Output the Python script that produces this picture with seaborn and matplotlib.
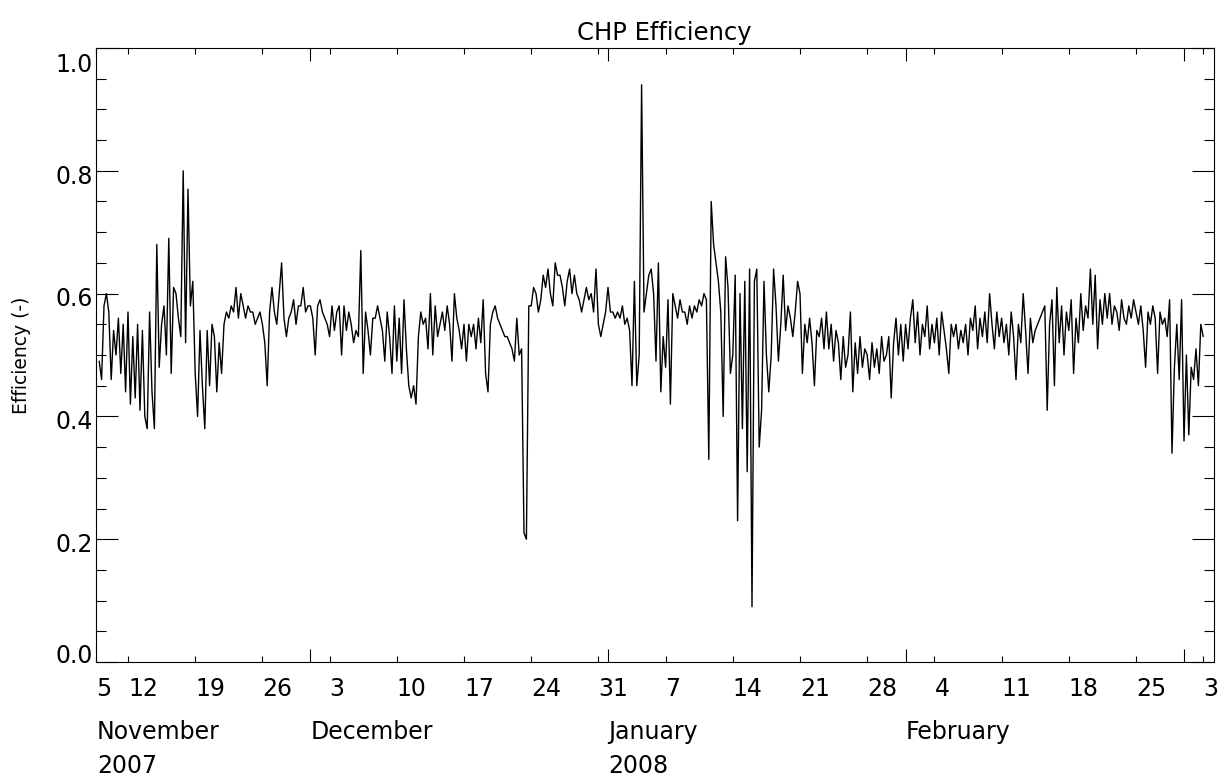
import numpy as np
import pandas as pd
import matplotlib
matplotlib.use("Agg")
import matplotlib.pyplot as plt
import matplotlib.dates as mdates
from matplotlib.transforms import ScaledTranslation, blended_transform_factory
import seaborn as sns

# ---- data: CHP efficiency, 4 samples per day (every 6 h) starting 2007-11-09 00:00
nov_2007 = [
    0.49, 0.46, 0.58, 0.60,  0.57, 0.46, 0.54, 0.50,  0.56, 0.47, 0.55, 0.44,
    0.57, 0.42, 0.53, 0.43,  0.55, 0.41, 0.54, 0.40,  0.38, 0.57, 0.44, 0.38,
    0.68, 0.48, 0.55, 0.58,  0.50, 0.69, 0.47, 0.61,  0.60, 0.56, 0.53, 0.80,
    0.52, 0.77, 0.58, 0.62,  0.47, 0.40, 0.54, 0.45,  0.38, 0.54, 0.45, 0.55,
    0.53, 0.44, 0.52, 0.47,  0.55, 0.57, 0.56, 0.58,  0.57, 0.61, 0.56, 0.60,
    0.58, 0.56, 0.58, 0.57,  0.57, 0.55, 0.56, 0.57,  0.55, 0.52, 0.45, 0.57,
    0.61, 0.57, 0.55, 0.60,  0.65, 0.56, 0.53, 0.56,  0.57, 0.59, 0.55, 0.58,
    0.58, 0.61, 0.57, 0.58,
]
dec_2007 = [
    0.58, 0.56, 0.50, 0.58,  0.59, 0.57, 0.56, 0.55,  0.53, 0.58, 0.54, 0.57,
    0.58, 0.50, 0.58, 0.54,  0.57, 0.55, 0.52, 0.54,  0.53, 0.67, 0.47, 0.57,
    0.54, 0.50, 0.56, 0.56,  0.58, 0.56, 0.54, 0.49,  0.57, 0.53, 0.47, 0.58,
    0.49, 0.56, 0.47, 0.59,  0.51, 0.45, 0.43, 0.45,  0.42, 0.53, 0.57, 0.55,
    0.56, 0.51, 0.60, 0.50,  0.58, 0.53, 0.55, 0.57,  0.54, 0.58, 0.55, 0.49,
    0.60, 0.56, 0.54, 0.51,  0.55, 0.49, 0.55, 0.53,  0.55, 0.51, 0.56, 0.52,
    0.59, 0.47, 0.44, 0.55,  0.57, 0.58, 0.56, 0.55,  0.54, 0.53, 0.53, 0.52,
    0.51, 0.49, 0.56, 0.50,  0.51, 0.21, 0.20, 0.58,  0.58, 0.61, 0.60, 0.57,
    0.59, 0.63, 0.61, 0.64,  0.60, 0.58, 0.65, 0.63,  0.63, 0.61, 0.58, 0.62,
    0.64, 0.60, 0.63, 0.60,  0.59, 0.57, 0.59, 0.61,  0.59, 0.60, 0.57, 0.64,
    0.55, 0.53, 0.55, 0.57,
]
jan_2008 = [
    0.61, 0.57, 0.57, 0.56,  0.57, 0.56, 0.58, 0.55,  0.56, 0.54, 0.45, 0.62,
    0.45, 0.50, 0.94, 0.57,  0.60, 0.63, 0.64, 0.60,  0.49, 0.65, 0.44, 0.53,
    0.48, 0.59, 0.42, 0.60,  0.58, 0.56, 0.59, 0.57,  0.57, 0.55, 0.58, 0.56,
    0.58, 0.57, 0.59, 0.58,  0.60, 0.59, 0.33, 0.75,  0.68, 0.65, 0.62, 0.57,
    0.40, 0.66, 0.61, 0.47,  0.50, 0.63, 0.23, 0.60,  0.38, 0.62, 0.31, 0.64,
    0.09, 0.62, 0.64, 0.35,  0.41, 0.62, 0.50, 0.44,  0.50, 0.64, 0.58, 0.49,
    0.55, 0.63, 0.54, 0.58,  0.56, 0.53, 0.57, 0.62,  0.60, 0.47, 0.55, 0.52,
    0.56, 0.52, 0.45, 0.54,  0.53, 0.56, 0.51, 0.57,  0.51, 0.55, 0.49, 0.54,
    0.52, 0.46, 0.53, 0.48,  0.50, 0.57, 0.44, 0.52,  0.47, 0.53, 0.48, 0.51,
    0.50, 0.46, 0.52, 0.48,  0.51, 0.47, 0.53, 0.49,  0.50, 0.53, 0.43, 0.52,
    0.56, 0.50, 0.55, 0.49,
]
feb_2008 = [
    0.55, 0.51, 0.56, 0.59,  0.52, 0.57, 0.50, 0.55,  0.53, 0.58, 0.51, 0.55,
    0.52, 0.56, 0.50, 0.57,  0.54, 0.51, 0.47, 0.55,  0.53, 0.55, 0.51, 0.54,
    0.52, 0.55, 0.50, 0.56,  0.54, 0.58, 0.51, 0.56,  0.53, 0.57, 0.52, 0.60,
    0.55, 0.51, 0.57, 0.53,  0.56, 0.52, 0.55, 0.50,  0.57, 0.53, 0.46, 0.55,
    0.52, 0.60, 0.54, 0.47,  0.56, 0.52, 0.54, None,  None, None, 0.58, 0.41,
    0.55, 0.59, 0.45, 0.61,  0.52, 0.58, 0.50, 0.57,  0.54, 0.59, 0.47, 0.56,
    0.52, 0.60, 0.54, 0.58,  0.56, 0.64, 0.55, 0.63,  0.51, 0.59, 0.55, 0.60,
    0.56, 0.60, 0.55, 0.58,  0.57, 0.54, 0.59, 0.56,  0.55, 0.58, 0.56, 0.59,
    0.57, 0.55, 0.58, 0.54,  0.48, 0.57, 0.55, 0.58,  0.56, 0.47, 0.57, 0.55,
    0.56, 0.53, 0.59, 0.34,  0.48, 0.55, 0.46, 0.59,
]
mar_2008 = [
    0.36, 0.50, 0.37, 0.48,  0.46, 0.51, 0.45, 0.55,  0.53,
]

week_ticks = ["2007-11-12", "2007-11-19", "2007-11-26", "2007-12-03", "2007-12-10",
              "2007-12-17", "2007-12-24", "2007-12-31", "2008-01-07", "2008-01-14",
              "2008-01-21", "2008-01-28", "2008-02-04", "2008-02-11", "2008-02-18",
              "2008-02-25", "2008-03-03"]
week_labels = ["12", "19", "26", "3", "10", "17", "24", "31", "7", "14", "21", "28",
               "4", "11", "18", "25", "3"]
month_starts = ["2007-12-01", "2008-01-01", "2008-02-01", "2008-03-01"]
month_labels = ["November", "December", "January", "February"]
year_labels = ["2007", "2008"]
y_ticks = [0.0, 0.2, 0.4, 0.6, 0.8, 1.0]
y_labels = ["0.0", "0.2", "0.4", "0.6", "0.8", "1.0"]

# ---- style
sns.set_style("ticks")
plt.rcParams["font.family"] = ["DejaVu Sans"]
plt.rcParams["text.color"] = "black"
plt.rcParams["axes.labelcolor"] = "black"
plt.rcParams["xtick.color"] = "black"
plt.rcParams["ytick.color"] = "black"

values = nov_2007 + dec_2007 + jan_2008 + feb_2008 + mar_2008
t0 = pd.Timestamp("2007-11-09")
times = t0 + pd.to_timedelta(np.arange(len(values)) * 6, unit="h")
df = pd.DataFrame({"time": times,
                   "eff": pd.to_numeric(pd.Series(values, dtype="object"), errors="coerce")})
df = df.dropna()

W, H = 1224, 779
fig = plt.figure(figsize=(W / 100, H / 100), dpi=100)
L, R, T, B = 96, 1214, 48, 662
ax = fig.add_axes([L / W, 1 - B / H, (R - L) / W, (B - T) / H])

sns.lineplot(data=df, x="time", y="eff", ax=ax, color="black", linewidth=1.0,
             estimator=None, sort=False)

x_left = t0 - pd.Timedelta(days=0.333)
x_right = t0 + pd.Timedelta(days=116.125)
ax.set_xlim(mdates.date2num(x_left), mdates.date2num(x_right))
ax.set_ylim(0.0, 1.0)

# x ticks: weekly (short, labelled, left-aligned) + month starts (long)
xt = [mdates.date2num(x_left)] + [mdates.date2num(pd.Timestamp(d)) for d in week_ticks]
ax.set_xticks(xt)
ax.set_xticklabels(["5"] + week_labels, ha="left", fontsize=17, color="black")
ax.set_xticks([mdates.date2num(pd.Timestamp(d)) for d in month_starts], minor=True)
ax.tick_params(axis="x", which="major", direction="in", length=4.3, width=0.8,
               top=True, bottom=True, pad=10.8, colors="black")
ax.tick_params(axis="x", which="minor", direction="in", length=9.4, width=0.8,
               top=True, bottom=True, colors="black")

# y ticks
ax.set_yticks(y_ticks)
ax.set_yticklabels(y_labels, fontsize=17, color="black")
ax.set_yticks(np.arange(0.05, 1.0, 0.05), minor=True)
ax.tick_params(axis="y", which="major", direction="in", length=15.8, width=0.8,
               left=True, right=True, pad=2.5, colors="black")
ax.tick_params(axis="y", which="minor", direction="in", length=7.2, width=0.8,
               left=True, right=True, colors="black")
y_offsets_px = [8.5, -3, -3, -3, -3.5, -15]
for lab, dy in zip(ax.get_yticklabels(), y_offsets_px):
    lab.set_transform(lab.get_transform() + ScaledTranslation(0, dy / 100, fig.dpi_scale_trans))

for s in ax.spines.values():
    s.set_visible(True)
    s.set_linewidth(0.8)
    s.set_color("black")

ax.set_xlabel("")
ax.set_ylabel("")

# month and year rows under the day numbers
tr = blended_transform_factory(ax.transData, fig.transFigure)
month_pos = [mdates.date2num(x_left) + 0.1] + [mdates.date2num(pd.Timestamp(d)) for d in month_starts[:3]]
for xm, lab in zip(month_pos, month_labels):
    ax.text(xm, 1 - 739 / H, lab, transform=tr, ha="left", va="baseline",
            fontsize=17, color="black")
year_pos = [mdates.date2num(x_left) + 0.1, mdates.date2num(pd.Timestamp(month_starts[1]))]
for xy, lab in zip(year_pos, year_labels):
    ax.text(xy, 1 - 773 / H, lab, transform=tr, ha="left", va="baseline",
            fontsize=17, color="black")

fig.text(664 / W, 1 - 40 / H, "CHP Efficiency", ha="center", va="baseline",
         fontsize=17.5, color="black")
fig.text(22 / W, 1 - 355 / H, "Efficiency (-)", rotation=90, ha="center", va="center",
         fontsize=13.5, color="black")

fig.savefig("out.png", dpi=100)
